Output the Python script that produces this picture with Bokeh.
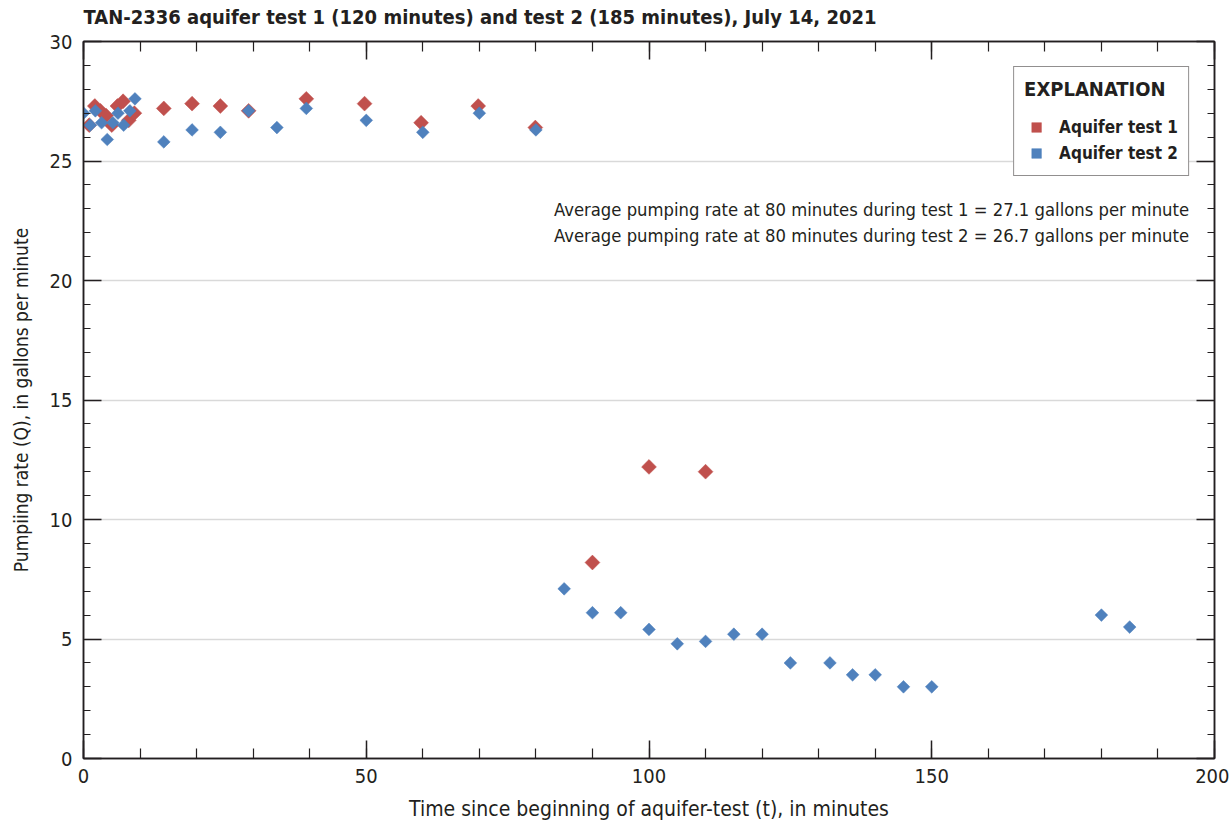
import math
from bokeh.plotting import figure
from bokeh.models import (Range1d, LinearAxis, SingleIntervalTicker, Legend,
                          LegendItem, Label, CustomLabelingPolicy)
from bokeh.embed import file_html
from bokeh.resources import INLINE

# ---------------- data ----------------
test1_time = [1, 2, 3, 4, 5, 6, 7, 8, 9, 14.2, 19.2, 24.2, 29.2, 39.4,
              49.7, 59.7, 69.8, 79.9, 90, 100, 110]
test1_rate = [26.5, 27.3, 27.1, 26.9, 26.5, 27.3, 27.5, 26.7, 27.0, 27.2,
              27.4, 27.3, 27.1, 27.6, 27.4, 26.6, 27.3, 26.4, 8.2, 12.2, 12.0]

test2_time = [0, 1.2, 2.1, 3.2, 4.2, 5.2, 6.1, 7.1, 8.2, 9.1, 14.2, 19.2,
              24.2, 29.2, 34.2, 39.4, 50, 60, 70, 80, 85, 90, 95, 100, 105,
              110, 115, 120, 125, 132, 136, 140, 145, 150, 180, 185]
test2_rate = [27.0, 26.5, 27.1, 26.6, 25.9, 26.6, 27.0, 26.5, 27.1, 27.6,
              25.8, 26.3, 26.2, 27.1, 26.4, 27.2, 26.7, 26.2, 27.0, 26.3,
              7.1, 6.1, 6.1, 5.4, 4.8, 4.9, 5.2, 5.2, 4.0, 4.0, 3.5, 3.5,
              3.0, 3.0, 6.0, 5.5]

title_text = "TAN-2336 aquifer test 1 (120 minutes) and test 2 (185 minutes), July 14, 2021"
x_label = "Time since beginning of aquifer-test (t), in minutes"
y_label = "Pumpiing rate (Q), in gallons per minute"
legend_title = "EXPLANATION"
series_names = ["Aquifer test 1", "Aquifer test 2"]
notes = ["Average pumping rate at 80 minutes during test 1 = 27.1 gallons per minute",
         "Average pumping rate at 80 minutes during test 2 = 26.7 gallons per minute"]

# ---------------- style ----------------
FONT = "'DejaVu Sans Condensed', 'Liberation Sans Narrow', sans-serif"
INK = "#231f20"
RED = "#C0504D"
BLUE = "#4F81BD"

p = figure(width=1229, height=824, output_backend="svg", toolbar_location=None,
           x_range=Range1d(0, 200), y_range=Range1d(0, 30),
           min_border_left=83, min_border_right=13, min_border_top=39,
           min_border_bottom=66)
p.background_fill_color = "white"
p.border_fill_color = "white"
p.outline_line_color = INK
p.outline_line_width = 1.5

xt = SingleIntervalTicker(interval=50, num_minor_ticks=5)
yt = SingleIntervalTicker(interval=5, num_minor_ticks=5)

hide_labels = CustomLabelingPolicy(code="""
const r = indices.clone()
for (const i of indices) { r.unset(i) }
return r
""")


def style_axis(ax, ticker, xdir, show_labels=True):
    ax.ticker = ticker
    ax.axis_line_color = INK
    ax.axis_line_width = 1.5
    ax.major_tick_line_color = INK
    ax.minor_tick_line_color = INK
    ax.major_tick_line_width = 1.5
    ax.minor_tick_line_width = 1.2
    ax.major_tick_in = 18
    ax.major_tick_out = 0
    ax.minor_tick_in = 10 if xdir else 7
    ax.minor_tick_out = 0
    if show_labels:
        ax.major_label_text_font = FONT
        ax.major_label_text_font_size = "20px"
        ax.major_label_text_color = INK
    else:
        ax.major_label_policy = hide_labels
        ax.major_label_standoff = 0
        ax.axis_label = None


style_axis(p.xaxis[0], xt, True)
style_axis(p.yaxis[0], yt, False)
p.xaxis.major_label_standoff = 10
p.yaxis.major_label_standoff = 11
p.xaxis.axis_label = x_label
p.yaxis.axis_label = y_label
for ax in (p.xaxis[0], p.yaxis[0]):
    ax.axis_label_text_font = FONT
    ax.axis_label_text_font_style = "normal"
    ax.axis_label_text_color = INK
p.xaxis.axis_label_text_font_size = "21px"
p.yaxis.axis_label_text_font_size = "19px"
p.xaxis.axis_label_standoff = 11
p.yaxis.axis_label_standoff = 15

top_ax = LinearAxis()
style_axis(top_ax, SingleIntervalTicker(interval=50, num_minor_ticks=5), True, False)
right_ax = LinearAxis()
style_axis(right_ax, SingleIntervalTicker(interval=5, num_minor_ticks=5), False, False)
p.add_layout(top_ax, "above")
p.add_layout(right_ax, "right")

p.xgrid.grid_line_color = None
p.ygrid.ticker = yt
p.ygrid.grid_line_color = "#d9d9d9"
p.ygrid.grid_line_width = 1.5

p.title.text = title_text
p.title.text_font = FONT
p.title.text_font_size = "20px"
p.title.text_font_style = "bold"
p.title.text_color = INK
p.title.align = "left"
p.title.standoff = 4

r1 = p.scatter(test1_time, test1_rate, marker="square", angle=math.pi / 4,
               size=10.5, fill_color=RED, line_color=RED, line_width=0.5)
r2 = p.scatter(test2_time, test2_rate, marker="square", angle=math.pi / 4,
               size=9, fill_color=BLUE, line_color=BLUE, line_width=0.5)

legend = Legend(items=[LegendItem(label=series_names[0], renderers=[r1]),
                       LegendItem(label=series_names[1], renderers=[r2])],
                location="top_right", title=legend_title)
legend.title_text_font = FONT
legend.title_text_font_size = "20px"
legend.title_text_font_style = "bold"
legend.title_text_color = INK
legend.title_standoff = 14
legend.label_text_font = FONT
legend.label_text_font_size = "17px"
legend.label_text_font_style = "bold"
legend.label_text_color = INK
legend.border_line_color = INK
legend.border_line_width = 1.5
legend.background_fill_alpha = 1
legend.padding = 10
legend.margin = 25
legend.spacing = 2
legend.glyph_width = 24
legend.glyph_height = 24
legend.label_height = 24
legend.label_standoff = 11
p.add_layout(legend)

for i, txt in enumerate(notes):
    p.add_layout(Label(x=195.5, y=22.95 - 1.05 * i, text=txt, text_align="right",
                       text_baseline="middle", text_font=FONT,
                       text_font_size="18.3px", text_color=INK))

open("out.html", "w").write(file_html(p, INLINE))
